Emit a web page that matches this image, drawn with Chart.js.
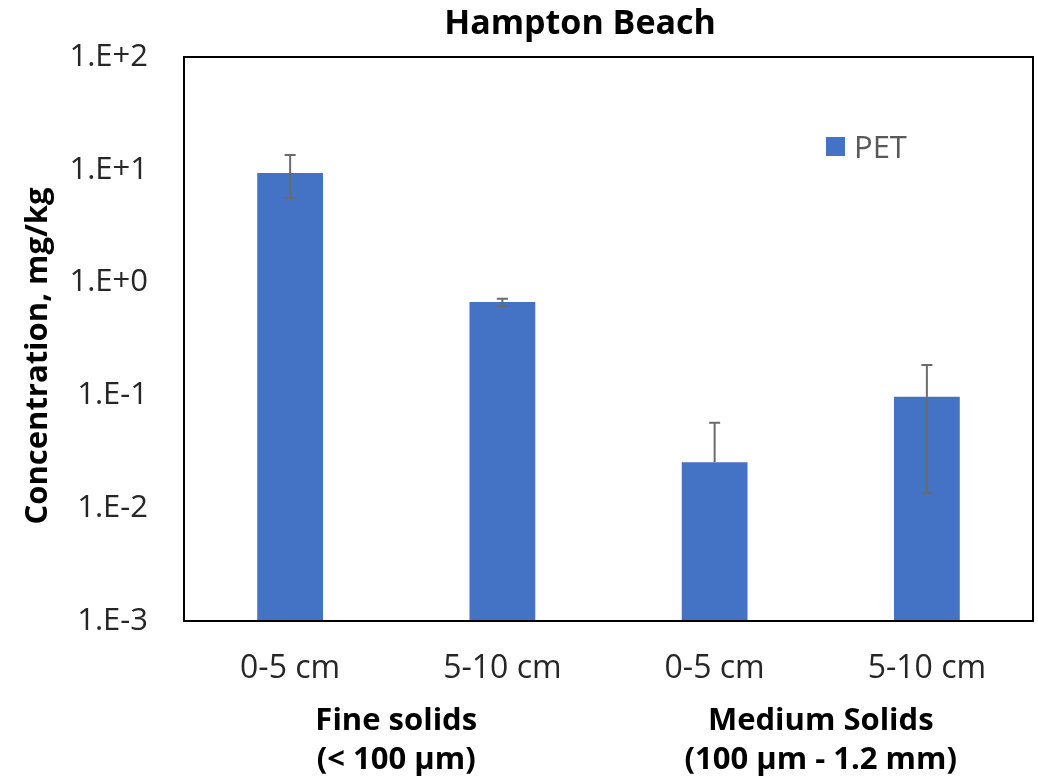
<!DOCTYPE html>
<html>
<head>
<meta charset="utf-8">
<script src="https://cdn.jsdelivr.net/npm/chart.js@4.4.1/dist/chart.umd.min.js"></script>
<style>
  html, body { margin: 0; padding: 0; background: #ffffff; }
  #wrap { width: 1038px; height: 781px; position: relative; }
</style>
</head>
<body>
<div id="wrap"><canvas id="c" width="1038" height="781"></canvas></div>
<script>
// Sampling depths within each size fraction
const depthLabels = ['0-5 cm', '5-10 cm', '0-5 cm', '5-10 cm'];
// Particle size fractions (two depths each)
const fractionLabels = [['Fine solids', '(< 100 µm)'], ['Medium Solids', '(100 µm - 1.2 mm)']];
// PET concentration, mg/kg
const petValues = [9.35, 0.673, 0.0255, 0.0975];
// Error bar extents, mg/kg (null = not shown)
const errUpper = [13.5, 0.72, 0.0573, 0.186];
const errLower = [5.62, 0.621, null, 0.01355];
// Y axis decades
const yTickValues = [0.001, 0.01, 0.1, 1, 10, 100];

const FONT = '"Open Sans", "Noto Sans", sans-serif';
const BAR_BLUE = '#4472C4';

function sciLabel(v) {
  const e = Math.round(Math.log10(v));
  return '1.E' + (e >= 0 ? '+' : '-') + Math.abs(e);
}

const errorBars = {
  id: 'errorBars',
  afterDatasetsDraw(chart) {
    const ctx = chart.ctx;
    const y = chart.scales.y;
    const meta = chart.getDatasetMeta(0);
    ctx.save();
    ctx.strokeStyle = '#6b6b6b';
    ctx.lineWidth = 2;
    const cap = 5.5;
    meta.data.forEach((bar, i) => {
      const x = bar.x;
      const yv = y.getPixelForValue(petValues[i]);
      const ends = [];
      if (errUpper[i] != null) ends.push(y.getPixelForValue(errUpper[i]));
      if (errLower[i] != null) ends.push(y.getPixelForValue(errLower[i]));
      ends.forEach(ye => {
        ctx.beginPath();
        ctx.moveTo(x, yv);
        ctx.lineTo(x, ye);
        ctx.moveTo(x - cap, ye);
        ctx.lineTo(x + cap, ye);
        ctx.stroke();
      });
    });
    ctx.restore();
  }
};

const frameAndText = {
  id: 'frameAndText',
  afterDraw(chart) {
    const ctx = chart.ctx;
    const a = chart.chartArea;
    ctx.save();
    // plot frame
    ctx.strokeStyle = '#000000';
    ctx.lineWidth = 2;
    ctx.strokeRect(a.left, a.top, a.right - a.left, a.bottom - a.top);
    // title
    ctx.fillStyle = '#000000';
    ctx.font = 'bold 34px ' + FONT;
    ctx.textAlign = 'center';
    ctx.textBaseline = 'alphabetic';
    ctx.fillText('Hampton Beach', 580, 34);
    // y axis title
    ctx.save();
    ctx.translate(38, 356);
    ctx.rotate(-Math.PI / 2);
    ctx.font = 'bold 31px ' + FONT;
    ctx.textBaseline = 'middle';
    ctx.fillText('Concentration, mg/kg', 0, 0);
    ctx.restore();
    // legend
    ctx.fillStyle = BAR_BLUE;
    ctx.fillRect(826, 137, 19, 19);
    ctx.fillStyle = '#595959';
    ctx.font = '31px ' + FONT;
    ctx.textAlign = 'left';
    ctx.textBaseline = 'alphabetic';
    ctx.fillText(chart.data.datasets[0].label, 854, 158);
    ctx.restore();
  }
};

new Chart(document.getElementById('c'), {
  type: 'bar',
  data: {
    labels: depthLabels,
    datasets: [{
      label: 'PET',
      data: petValues,
      backgroundColor: BAR_BLUE,
      borderWidth: 0,
      categoryPercentage: 1.0,
      barPercentage: 0.31,
      xAxisID: 'x',
      yAxisID: 'y'
    }]
  },
  options: {
    responsive: false,
    animation: false,
    layout: { padding: { top: 57, right: 5, bottom: 0, left: 0 } },
    plugins: {
      legend: { display: false },
      title: { display: false },
      tooltip: { enabled: false }
    },
    scales: {
      y: {
        type: 'logarithmic',
        min: 0.001,
        max: 100,
        afterBuildTicks(scale) { scale.ticks = yTickValues.map(v => ({ value: v })); },
        afterFit(scale) { scale.width = 184; },
        grid: { display: false, drawTicks: false },
        border: { display: false },
        ticks: {
          callback: v => sciLabel(v),
          color: '#262626',
          padding: 36,
          font: { family: FONT, size: 31 }
        }
      },
      x: {
        position: 'bottom',
        offset: true,
        afterFit(scale) { scale.height = 68; },
        grid: { display: false, drawTicks: false },
        border: { display: false },
        ticks: {
          color: '#262626',
          padding: 29,
          maxRotation: 0,
          autoSkip: false,
          font: { family: FONT, size: 32 }
        }
      },
      x2: {
        type: 'category',
        position: 'bottom',
        labels: fractionLabels,
        offset: true,
        afterFit(scale) { scale.height = 92; },
        grid: { display: false, drawTicks: false },
        border: { display: false },
        ticks: {
          color: '#000000',
          padding: 13,
          maxRotation: 0,
          autoSkip: false,
          font: { family: FONT, size: 31, weight: 'bold', lineHeight: 1.26 }
        }
      }
    }
  },
  plugins: [errorBars, frameAndText]
});
</script>
</body>
</html>
